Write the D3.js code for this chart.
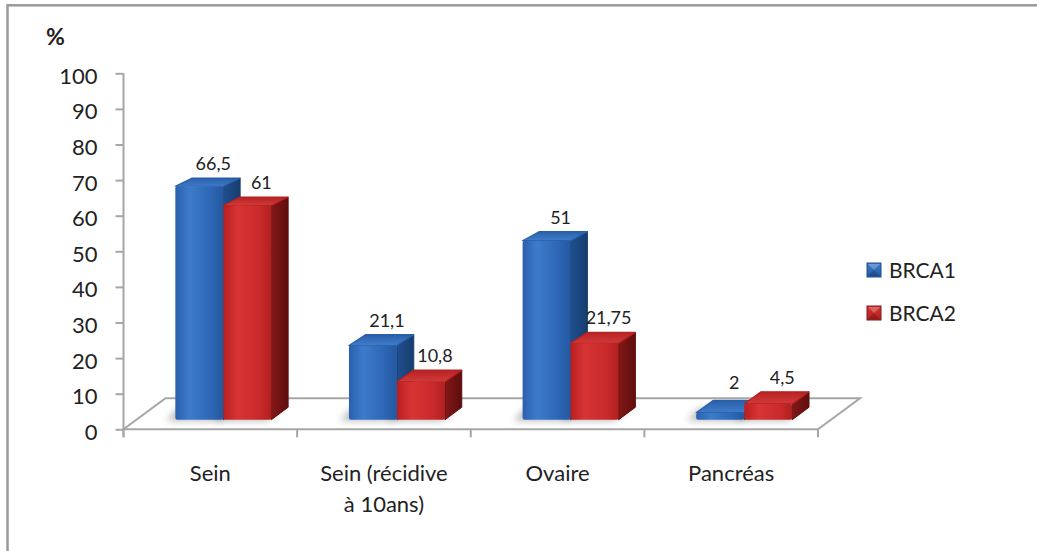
<!DOCTYPE html>
<html>
<head>
<meta charset="utf-8">
<script src="https://cdn.jsdelivr.net/npm/d3@7"></script>
<style>
  html, body { margin: 0; padding: 0; background: #fff; }
  svg { display: block; }
  text { font-family: Lato, "Open Sans", sans-serif; fill: #222; }
</style>
</head>
<body>
<svg id="chart" width="1037" height="551"></svg>
<script>
// ---- data ----
const categories = ["Sein", "Sein (récidive\nà 10ans)", "Ovaire", "Pancréas"];
const seriesNames = ["BRCA1", "BRCA2"];
const brca1 = [66.5, 21.1, 51, 2];
const brca2 = [61, 10.8, 21.75, 4.5];
const yTicks = [0, 10, 20, 30, 40, 50, 60, 70, 80, 90, 100];
const yUnit = "%";

const seriesValues = [brca1, brca2];
const rows = categories.map((c, i) => ({
  cat: c,
  values: seriesNames.map((s, j) => ({ series: s, value: seriesValues[j][i], cat: c }))
}));

// ---- layout ----
const svg = d3.select("#chart");
const W = 1037, H = 551;
const x0 = 123.5, x1 = 818;      // floor front edge (front plane)
const y0 = 429.3, yTop = 73.3;   // value axis, front plane
const DX = 42, DY = 31;          // floor depth offset
const dFront = 0.31, dBack = 0.71; // bar depth span within floor

const x = d3.scaleBand().domain(categories).range([x0, x1]).padding(0);
const xs = d3.scaleBand().domain(seriesNames);
const y = d3.scaleLinear().domain([0, 100]).range([y0, yTop]);

// value scale on a plane at depth d (slight perspective shrink)
function yAt(d) {
  return d3.scaleLinear().domain([0, 100])
    .range([y0 - DY * d, y0 - DY * d - (y0 - yTop) * (1 - 0.045 * d)]);
}
const yF = yAt(dFront), yB = yAt(dBack);

const colors = {
  BRCA1: { front: ["#2a60ad", "#3c7bcb", "#2d66b5", "#24589f"], side: ["#1f4f8f", "#173d6e"], top: ["#3f7ccb", "#2a5fa8"] },
  BRCA2: { front: ["#b81f21", "#d83434", "#c92a2b", "#b0201f"], side: ["#841818", "#5e0d0d"], top: ["#d23a3a", "#b62222"] }
};

// ---- defs ----
const defs = svg.append("defs");
seriesNames.forEach(s => {
  const c = colors[s];
  const gf = defs.append("linearGradient").attr("id", "front-" + s).attr("x1", 0).attr("x2", 1).attr("y1", 0).attr("y2", 0);
  [[0, c.front[0]], [0.3, c.front[1]], [0.75, c.front[2]], [1, c.front[3]]]
    .forEach(([o, col]) => gf.append("stop").attr("offset", o).attr("stop-color", col));
  const gs = defs.append("linearGradient").attr("id", "side-" + s).attr("x1", 0).attr("x2", 1).attr("y1", 0).attr("y2", 0);
  gs.append("stop").attr("offset", 0).attr("stop-color", c.side[0]);
  gs.append("stop").attr("offset", 1).attr("stop-color", c.side[1]);
  const gt = defs.append("linearGradient").attr("id", "top-" + s).attr("x1", 0).attr("x2", 0).attr("y1", 1).attr("y2", 0);
  gt.append("stop").attr("offset", 0).attr("stop-color", c.top[0]);
  gt.append("stop").attr("offset", 1).attr("stop-color", c.top[1]);
  const gl = defs.append("linearGradient").attr("id", "leg-" + s).attr("x1", 0).attr("x2", 0).attr("y1", 0).attr("y2", 1);
  gl.append("stop").attr("offset", 0).attr("stop-color", c.front[1]);
  gl.append("stop").attr("offset", 1).attr("stop-color", c.front[3]);
});
defs.append("filter").attr("id", "soft").attr("x", "-50%").attr("y", "-50%").attr("width", "200%").attr("height", "200%")
  .append("feGaussianBlur").attr("stdDeviation", 3.5);

// ---- chart border ----
svg.append("rect")
  .attr("x", 7.5).attr("y", 5.3).attr("width", W + 20).attr("height", H + 20)
  .attr("fill", "#fff").attr("stroke", "#9a9a9a").attr("stroke-width", 2.5);

// ---- floor ----
const line = d3.line();
svg.append("path")
  .attr("d", line([[x0, y0], [x1, y0], [x1 + DX, y0 - DY], [x0 + DX, y0 - DY]]) + "Z")
  .attr("fill", "#fff").attr("stroke", "#a6a6a6").attr("stroke-width", 2);

// category ticks below front edge
const bounds = categories.map(c => x(c)).concat([x1]);
svg.append("g").selectAll("line").data(bounds).join("line")
  .attr("x1", d => d).attr("x2", d => d)
  .attr("y1", y0).attr("y2", y0 + 8)
  .attr("stroke", "#a6a6a6").attr("stroke-width", 2);

// ---- value axis ----
const yAxis = svg.append("g").attr("transform", `translate(${x0},0)`)
  .call(d3.axisLeft(y).tickValues(yTicks).tickSize(8).tickSizeOuter(0).tickPadding(18));
yAxis.select(".domain").attr("stroke", "#a6a6a6").attr("stroke-width", 2)
  .attr("d", `M0,${yTop}V${y0 + 8}`);
yAxis.selectAll(".tick line").attr("stroke", "#a6a6a6").attr("stroke-width", 2);
yAxis.selectAll(".tick text").attr("font-size", 22).attr("fill", "#222")
  .attr("dy", null).attr("y", 10).style("font-family", "Lato, 'Open Sans', sans-serif");

svg.append("text").attr("x", 46).attr("y", 45).attr("font-size", 23).attr("font-weight", 700).text(yUnit);

// ---- bars ----
xs.range([-48, 48]);
const bars = rows.flatMap(r => r.values.map(v => {
  const cx = x(r.cat) + x.bandwidth() / 2;
  return { ...v, xl: cx + xs(v.series), xr: cx + xs(v.series) + xs.bandwidth() };
}));

// shadows on the floor
svg.append("g").selectAll("path").data(bars).join("path")
  .attr("d", b => line([
    [b.xl + DX * dFront - 9, yF(0) + 1], [b.xr + DX * dFront - 4, yF(0) + 1],
    [b.xr + DX * dBack - 6, yB(0) + 1], [b.xl + DX * dBack - 14, yB(0) + 1]]) + "Z")
  .attr("fill", "#000").attr("opacity", 0.28).attr("filter", "url(#soft)");

const barG = svg.append("g").selectAll("g").data(bars).join("g");
// right side face
barG.append("path")
  .attr("d", b => line([
    [b.xr + DX * dFront, yF(0)], [b.xr + DX * dBack, yB(0)],
    [b.xr + DX * dBack, yB(b.value)], [b.xr + DX * dFront, yF(b.value)]]) + "Z")
  .attr("fill", b => `url(#side-${b.series})`)
  .attr("stroke", b => colors[b.series].side[1]).attr("stroke-width", 1).attr("stroke-linejoin", "round");
// top face
barG.append("path")
  .attr("d", b => line([
    [b.xl + DX * dFront, yF(b.value)], [b.xr + DX * dFront, yF(b.value)],
    [b.xr + DX * dBack, yB(b.value)], [b.xl + DX * dBack, yB(b.value)]]) + "Z")
  .attr("fill", b => `url(#top-${b.series})`)
  .attr("stroke", b => colors[b.series].top[1]).attr("stroke-width", 1.2).attr("stroke-linejoin", "round");
// front face
barG.append("rect")
  .attr("x", b => b.xl + DX * dFront)
  .attr("y", b => yF(b.value))
  .attr("width", b => b.xr - b.xl)
  .attr("height", b => yF(0) - yF(b.value))
  .attr("rx", 2)
  .attr("fill", b => `url(#front-${b.series})`);

// value labels
const fmt = v => String(v).replace(".", ",");
svg.append("g").selectAll("text").data(bars).join("text")
  .attr("x", b => (b.xl + b.xr) / 2 + DX * dFront + 14)
  .attr("y", b => Math.min(yB(b.value) - 8, yB(0) - 18))
  .attr("text-anchor", "middle").attr("font-size", 18)
  .text(b => fmt(b.value));

// category labels
const catG = svg.append("g").selectAll("text").data(categories).join("text")
  .attr("x", c => x(c) + x.bandwidth() / 2)
  .attr("y", 481)
  .attr("text-anchor", "middle").attr("font-size", 22);
catG.selectAll("tspan").data(c => c.split("\n")).join("tspan")
  .attr("x", function () { return d3.select(this.parentNode).attr("x"); })
  .attr("dy", (d, i) => i === 0 ? 0 : 31)
  .text(d => d);

// ---- legend ----
const leg = svg.append("g").selectAll("g").data(seriesNames).join("g")
  .attr("transform", (s, i) => `translate(867,${263 + i * 43})`);
leg.append("rect").attr("width", 14).attr("height", 14)
  .attr("fill", s => `url(#leg-${s})`)
  .attr("stroke", s => colors[s].side[0]).attr("stroke-width", 1);
leg.append("path").attr("d", "M1,1L7,7L13,1Z").attr("fill", "#fff").attr("opacity", 0.25);
leg.append("path").attr("d", "M1,13L7,7L13,13Z").attr("fill", "#000").attr("opacity", 0.18);
leg.append("text").attr("x", 22).attr("y", 14.5).attr("font-size", 21).text(s => s);
</script>
</body>
</html>
